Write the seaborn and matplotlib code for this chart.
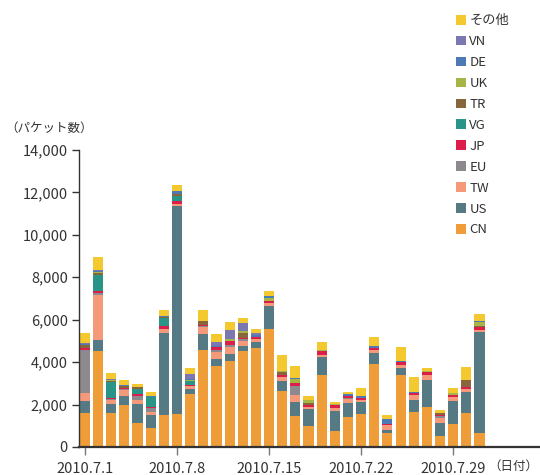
import numpy as np
import pandas as pd
import matplotlib
matplotlib.use("Agg")
import matplotlib.pyplot as plt
from matplotlib.patches import Patch
import seaborn as sns

sns.set_style("white")
plt.rcParams['font.family'] = ['Noto Sans CJK JP', 'DejaVu Sans']

days = [f"2010.7.{d}" for d in range(1, 32)]
tick_labels = ["2010.7.1", "2010.7.8", "2010.7.15", "2010.7.22", "2010.7.29"]

CN = [1585, 4519, 1585, 1990, 1132, 896, 1509, 1556, 2499, 4574, 3836, 4056, 4527, 4669, 5565, 2641,
      1462, 990, 3396, 755, 1415, 1556, 3914, 660, 3396, 1651, 1886, 519, 1085, 1603, 660]
US = [565, 502, 423, 424, 896, 613, 3867, 9819, 236, 755, 314, 330, 236, 283, 1085, 472,
      660, 802, 848, 943, 660, 566, 519, 142, 330, 566, 1274, 613, 1084, 991, 4763]
TW = [376, 2134, 204, 283, 189, 142, 189, 94, 141, 314, 346, 330, 236, 141, 141, 188,
      330, 94, 95, 141, 189, 95, 141, 236, 141, 235, 236, 236, 189, 141, 95]
EU = [2024, 125, 30, 40, 188, 188, 0, 0, 0, 40, 94, 79, 70, 0, 0, 0,
      425, 0, 0, 0, 47, 0, 0, 0, 0, 0, 0, 94, 0, 0, 0]
JP = [110, 94, 48, 54, 94, 47, 141, 110, 63, 86, 126, 188, 80, 95, 94, 95,
      141, 95, 188, 142, 94, 94, 95, 47, 142, 95, 141, 47, 94, 95, 141]
VG = [0, 738, 754, 0, 236, 472, 378, 236, 173, 0, 0, 0, 0, 0, 0, 0,
      0, 0, 0, 0, 0, 0, 0, 0, 0, 0, 0, 0, 0, 0, 0]
TR = [125, 94, 63, 95, 95, 0, 50, 94, 0, 157, 0, 0, 243, 0, 0, 141,
      0, 94, 0, 0, 0, 0, 0, 0, 0, 0, 0, 94, 0, 330, 47]
UK = [0, 62, 30, 0, 0, 0, 0, 40, 63, 30, 0, 126, 80, 0, 142, 47,
      189, 142, 47, 50, 0, 0, 0, 0, 0, 0, 47, 0, 95, 0, 189]
DE = [80, 50, 20, 20, 0, 25, 44, 132, 30, 0, 40, 0, 0, 90, 94, 0,
      47, 0, 0, 0, 94, 94, 94, 235, 47, 47, 0, 0, 0, 0, 47]
VN = [30, 45, 28, 27, 0, 22, 0, 0, 238, 0, 196, 409, 376, 98, 0, 0,
      0, 0, 0, 0, 0, 0, 0, 0, 0, 0, 0, 0, 0, 0, 0]
OTHER = [502, 612, 282, 236, 141, 189, 283, 283, 283, 505, 377, 377, 236, 189, 236, 755,
         566, 188, 378, 91, 95, 377, 425, 189, 660, 707, 142, 142, 235, 613, 330]

series_names = ["CN", "US", "TW", "EU", "JP", "VG", "TR", "UK", "DE", "VN", "その他"]
series_vals = [CN, US, TW, EU, JP, VG, TR, UK, DE, VN, OTHER]
colors = ["#EE9D38", "#567A84", "#F5997B", "#8D898E", "#DC1F4A", "#2A9587",
          "#86663A", "#A6B545", "#4D79B5", "#7B77B0", "#F3C92F"]

df = pd.DataFrame({n: v for n, v in zip(series_names, series_vals)})
df["day"] = days

fig = plt.figure(figsize=(5.4, 4.75), dpi=100)
ax = fig.add_axes([79/540, 1 - 447/475, 1 - 79/540, (447 - 150)/475])

bottom = np.zeros(len(days))
for name, col in zip(series_names, colors):
    vals = df[name].to_numpy(dtype=float)
    sns.barplot(x=df["day"], y=vals, bottom=bottom, color=col, saturation=1,
                width=0.77, ax=ax, order=days, linewidth=0, errorbar=None)
    bottom += vals

ax.set_xlim(-0.45, 34.6)
ax.set_ylim(0, 14000)
ax.set_yticks(np.arange(0, 14001, 2000))
ax.set_yticklabels([f"{v:,}" for v in range(0, 14001, 2000)])
ax.set_xticks([days.index(t) for t in tick_labels])
ax.set_xticklabels(tick_labels)
ax.set_xlabel("")
ax.set_ylabel("")

for s in ["top", "right"]:
    ax.spines[s].set_visible(False)
ax.spines["left"].set_color("#333333")
ax.spines["left"].set_linewidth(1.0)
ax.spines["bottom"].set_color("#333333")
ax.spines["bottom"].set_linewidth(1.6)
ax.tick_params(axis="y", direction="out", length=5, width=1, color="#333333",
               labelsize=10.5, labelcolor="#333333", pad=3, left=True)
ax.tick_params(axis="x", direction="out", length=6, width=1, color="#777777",
               labelsize=10.5, labelcolor="#333333", pad=5, bottom=True)

fig.text(5/540, 1 - 128/475, "（パケット数）", fontsize=9, color="#333333",
         ha="left", va="center")
fig.text(538/540, 1 - 466/475, "（日付）", fontsize=9, color="#333333",
         ha="right", va="center")

handles = [Patch(facecolor=c, edgecolor="none") for c in colors][::-1]
labels = series_names[::-1]
fig.legend(handles, labels, loc="upper left", bbox_to_anchor=(451/540, 1 - 9/475),
           frameon=False, fontsize=9.5, handlelength=0.75, handleheight=0.75,
           handletextpad=0.25, labelspacing=0.6, borderaxespad=0, labelcolor="#333333")

fig.savefig("out.png", dpi=100)
